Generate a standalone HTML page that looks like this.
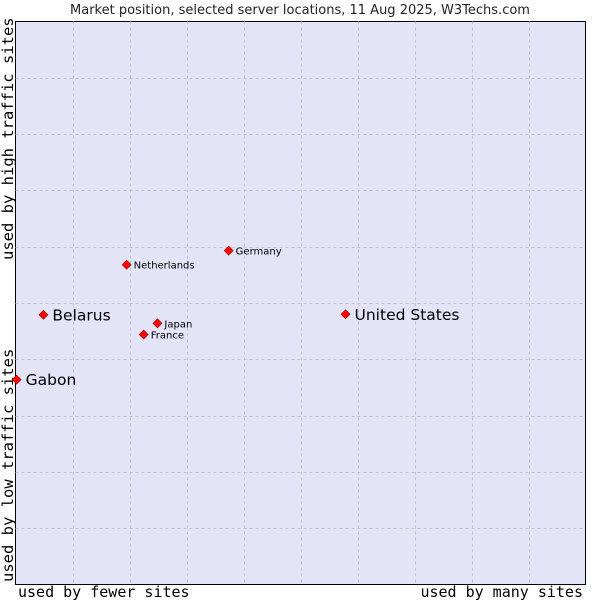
<!DOCTYPE html>
<html><head><meta charset="utf-8"><style>
body{margin:0;background:#fff;}
svg{display:block;}
</style></head><body>
<svg id="chart" width="600" height="600" xmlns="http://www.w3.org/2000/svg">
<text x="300" y="14" text-anchor="middle" font-family="DejaVu Sans, sans-serif" font-size="13" fill="#222">Market position, selected server locations, 11 Aug 2025, W3Techs.com</text>
<rect x="15.5" y="21.5" width="570" height="563" fill="#e4e4f8" stroke="#000" stroke-width="1"/>
<g id="grid"></g>
<text x="18" y="597" font-family="DejaVu Sans Mono, monospace" font-size="15" fill="#000">used by fewer sites</text>
<text x="583" y="597" text-anchor="end" font-family="DejaVu Sans Mono, monospace" font-size="15" fill="#000">used by many sites</text>
<text transform="translate(13,260) rotate(-90)" font-family="DejaVu Sans Mono, monospace" font-size="15.5" fill="#000">used by high traffic sites</text>
<text transform="translate(13,582) rotate(-90)" font-family="DejaVu Sans Mono, monospace" font-size="15.5" fill="#000">used by low traffic sites</text>
<g id="points"></g>
</svg>
<script>
const countries=["Gabon","Belarus","Netherlands","Germany","Japan","France","United States"];
const xValues=[0.2,4.9,19.5,37.4,24.9,22.5,57.9];
const yValues=[36.4,47.9,56.8,59.3,46.4,44.4,48.0];
const bigLabel=[true,true,false,false,false,false,true];
const L=15.5,T=21.5,W=570,H=563;
const sx=v=>L+v/100*W, sy=v=>T+H-v/100*H;
const NS="http://www.w3.org/2000/svg";
const grid=document.getElementById('grid');
for(let i=1;i<10;i++){
  const v=document.createElementNS(NS,'line');
  
  
  const x=Math.round(sx(i*10))+0.5;
  v.setAttribute('x1',x);v.setAttribute('x2',x);v.setAttribute('y1',T);v.setAttribute('y2',T+H);
  v.setAttribute('stroke','#c0c0c0');v.setAttribute('stroke-dasharray','3,3');
  grid.appendChild(v);
  const h=document.createElementNS(NS,'line');
  
  
  const y=Math.round(sy(i*10))+0.5;
  h.setAttribute('y1',y);h.setAttribute('y2',y);h.setAttribute('x1',L);h.setAttribute('x2',L+W);
  h.setAttribute('stroke','#c0c0c0');h.setAttribute('stroke-dasharray','3,3');
  grid.appendChild(h);
}
const pts=document.getElementById('points');
countries.forEach((c,i)=>{
  const x=sx(xValues[i]),y=sy(yValues[i]);
  const p=document.createElementNS(NS,'polygon');
  
  
  p.setAttribute('points',`${x},${y-4.5} ${x+4.5},${y} ${x},${y+4.5} ${x-4.5},${y}`);
  p.setAttribute('fill','#f00');p.setAttribute('stroke','#a00');p.setAttribute('stroke-width','0.6');
  pts.appendChild(p);
  const t=document.createElementNS(NS,'text');
  
  
  t.setAttribute('x',x+(bigLabel[i]?9:7));
  t.setAttribute('y',y+(bigLabel[i]?5.5:4));
  t.setAttribute('font-family','DejaVu Sans, sans-serif');
  t.setAttribute('font-size',bigLabel[i]?'15.5':'10');
  t.textContent=c;
  pts.appendChild(t);
});
</script>
</body></html>
